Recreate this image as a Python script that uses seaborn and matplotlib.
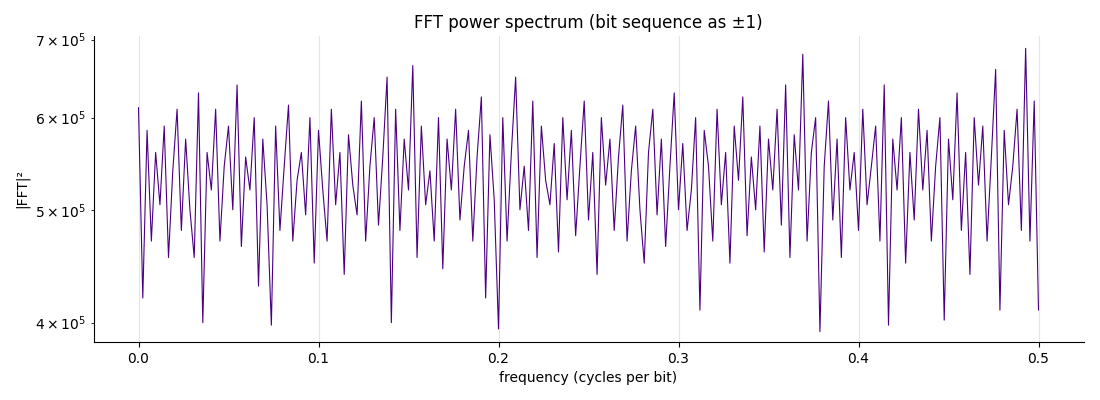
import matplotlib
matplotlib.use("Agg")
import matplotlib.pyplot as plt
import seaborn as sns
import numpy as np
import pandas as pd

power_k = [
612,420,585,470,560,505,590,455,540,610,480,575,500,455,630,400,560,520,610,470,
545,590,500,640,465,555,520,600,430,575,505,398,590,480,545,615,470,530,560,495,
600,450,585,520,470,610,505,560,440,580,525,495,620,470,545,600,485,555,650,400,
610,480,575,520,665,455,590,505,540,470,600,445,575,520,610,490,545,585,470,555,
625,420,580,510,395,600,470,560,650,500,545,480,620,455,590,530,505,570,460,600,
510,585,475,545,620,490,560,440,600,525,575,480,555,615,470,540,590,500,450,560,
610,495,575,465,545,630,500,570,480,520,600,410,585,545,470,610,505,560,450,590,
530,625,475,555,500,590,460,575,520,610,485,640,455,580,520,680,470,560,600,393,
545,620,490,575,455,600,520,560,480,610,505,545,590,470,640,398,575,520,600,450,
560,490,610,520,585,470,545,600,402,575,510,630,480,560,440,600,525,590,470,555,
660,410,585,505,545,610,480,688,470,620,410
]
freq = [i * 0.5 / (len(power_k) - 1) for i in range(len(power_k))]
df = pd.DataFrame({"freq": freq, "power": [v * 1000 for v in power_k]})

sns.set_style("ticks", {"text.color": "black", "axes.labelcolor": "black",
                        "xtick.color": "black", "ytick.color": "black",
                        "axes.edgecolor": "black"})
fig, ax = plt.subplots(figsize=(11, 4), dpi=100)
sns.lineplot(data=df, x="freq", y="power", color="indigo", linewidth=0.8, ax=ax)
ax.set_yscale("log")
ax.set_ylim(385000, 705000)
ax.set_xticks([0, 0.1, 0.2, 0.3, 0.4, 0.5])
ax.xaxis.grid(True, color="#e5e5e5", linewidth=0.8)
ax.set_axisbelow(True)
ax.set_title("FFT power spectrum (bit sequence as ±1)", fontsize=12)
ax.set_xlabel("frequency (cycles per bit)")
ax.set_ylabel("|FFT|²")
sns.despine(ax=ax)
fig.subplots_adjust(left=0.085, right=0.985, top=0.91, bottom=0.145)
fig.savefig("out.png")
